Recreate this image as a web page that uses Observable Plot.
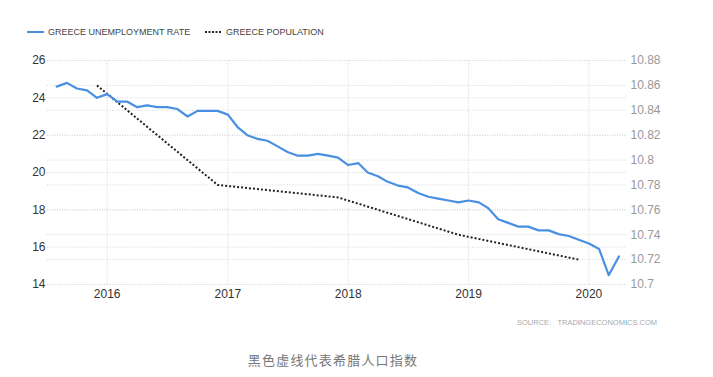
<!DOCTYPE html>
<html>
<head>
<meta charset="utf-8">
<script src="https://cdn.jsdelivr.net/npm/d3@7"></script>
<script src="https://cdn.jsdelivr.net/npm/@observablehq/plot@0.6"></script>
<style>
  body { margin:0; background:#fff; width:713px; height:377px; position:relative; overflow:hidden;
         font-family:"Liberation Sans",Arial,sans-serif; }
  #chart { position:absolute; left:0; top:45px; }
  .leg { position:absolute; top:27px; font-size:9px; color:#444; display:flex; align-items:center; white-space:nowrap; }
  .leg svg { margin-right:4px; }
  #source { position:absolute; left:517px; top:318px; font-size:7.5px; color:#aaa; letter-spacing:0px; white-space:nowrap; }
  #source .b { color:#5b9bd5; }
  #caption { position:absolute; left:0; width:666px; text-align:center; top:350px; font-size:13px; color:#777;
             letter-spacing:1.2px; font-family:"Noto Sans CJK SC",sans-serif; }
</style>
</head>
<body>
<div class="leg" style="left:27px"><svg width="17" height="4"><line x1="0" x2="17" y1="2" y2="2" stroke="#4a90e2" stroke-width="2"/></svg><span id="l1"></span></div>
<div class="leg" style="left:205px"><svg width="17" height="4"><line x1="0" x2="17" y1="2" y2="2" stroke="#222" stroke-width="2" stroke-dasharray="2,1.5"/></svg><span id="l2"></span></div>
<div id="chart"></div>
<div id="source">SOURCE:&nbsp;&nbsp;&nbsp;TRAD<span class="b">I</span>NGECONOM<span class="b">I</span>CS.COM</div>
<div id="caption"></div>
<script>
// ---- data ----
const seriesNames = ["GREECE UNEMPLOYMENT RATE", "GREECE POPULATION"];
const captionText = "黑色虚线代表希腊人口指数";
const unemploymentStart = "2015-08"; // monthly, Aug 2015 .. Apr 2020
const unemployment = [
  24.6, 24.8, 24.5, 24.4, 24.0,
  24.2, 23.8, 23.8, 23.5, 23.6, 23.5, 23.5, 23.4, 23.0, 23.3, 23.3, 23.3,
  23.1, 22.4, 22.0, 21.8, 21.7, 21.4, 21.1, 20.9, 20.9, 21.0, 20.9, 20.8,
  20.4, 20.5, 20.0, 19.8, 19.5, 19.3, 19.2, 18.9, 18.7, 18.6, 18.5, 18.4,
  18.5, 18.4, 18.1, 17.5, 17.3, 17.1, 17.1, 16.9, 16.9, 16.7, 16.6, 16.4,
  16.2, 15.9, 14.5, 15.5
];
const populationDates = ["2015-12-01", "2016-12-01", "2017-12-01", "2018-12-01", "2019-12-01"];
const population = [10.86, 10.78, 10.77, 10.74, 10.72];
const leftTicks = [14, 16, 18, 20, 22, 24, 26];
const rightTicks = [10.7, 10.72, 10.74, 10.76, 10.78, 10.8, 10.82, 10.84, 10.86, 10.88];
const yearTicks = ["2016-01-01", "2017-01-01", "2018-01-01", "2019-01-01", "2020-01-01"];
const xDomain = ["2015-07-04", "2020-04-27"];
const leftDomain = [14, 26];
const rightDomain = [10.7, 10.88];

// ---- build ----
document.getElementById("l1").textContent = seriesNames[0];
document.getElementById("l2").textContent = seriesNames[1];
document.getElementById("caption").textContent = captionText;

const parse = d3.utcParse("%Y-%m-%d");
const start = d3.utcParse("%Y-%m")(unemploymentStart);
const uData = unemployment.map((v, i) => ({date: d3.utcMonth.offset(start, i), value: v}));
const toLeft = d3.scaleLinear(rightDomain, leftDomain);
const toRight = d3.scaleLinear(leftDomain, rightDomain);
const pData = population.map((v, i) => ({date: parse(populationDates[i]), value: toLeft(v)}));
const rightMapped = rightTicks.map(toLeft);
const years = yearTicks.map(parse);

const grid = {stroke: "#d8d8d8", strokeDasharray: "1,1.5", strokeWidth: 1, strokeOpacity: 1};

const chart = Plot.plot({
  width: 713,
  height: 264,
  marginLeft: 47,
  marginRight: 86,
  marginTop: 15,
  marginBottom: 25,
  style: {fontFamily: '"Liberation Sans",Arial,sans-serif', fontSize: "12px", background: "#fff"},
  x: {type: "utc", domain: xDomain.map(parse)},
  y: {domain: leftDomain},
  marks: [
    Plot.ruleY(leftTicks, grid),
    Plot.ruleY(rightMapped, grid),
    Plot.ruleX(years, {...grid, y1: leftDomain[0], y2: leftDomain[1]}),
    Plot.axisY(leftTicks, {anchor: "left", tickSize: 0, tickPadding: 2, fill: "#333", fontSize: 12, label: null}),
    Plot.axisY(rightMapped, {anchor: "right", tickSize: 0, tickPadding: 3, fill: "#999", fontSize: 12, label: null,
      tickFormat: d => String(+toRight(d).toFixed(2))}),
    Plot.axisX(years, {tickSize: 0, tickPadding: 5, fill: "#333", fontSize: 12, tickFormat: d3.utcFormat("%Y"), label: null}),
    Plot.line(pData, {x: "date", y: "value", stroke: "#222", strokeWidth: 2, strokeDasharray: "2,2", strokeLinecap: "butt", curve: "linear"}),
    Plot.line(uData, {x: "date", y: "value", stroke: "#4a90e2", strokeWidth: 2.2, curve: "linear"})
  ]
});
document.getElementById("chart").appendChild(chart);
</script>
</body>
</html>
